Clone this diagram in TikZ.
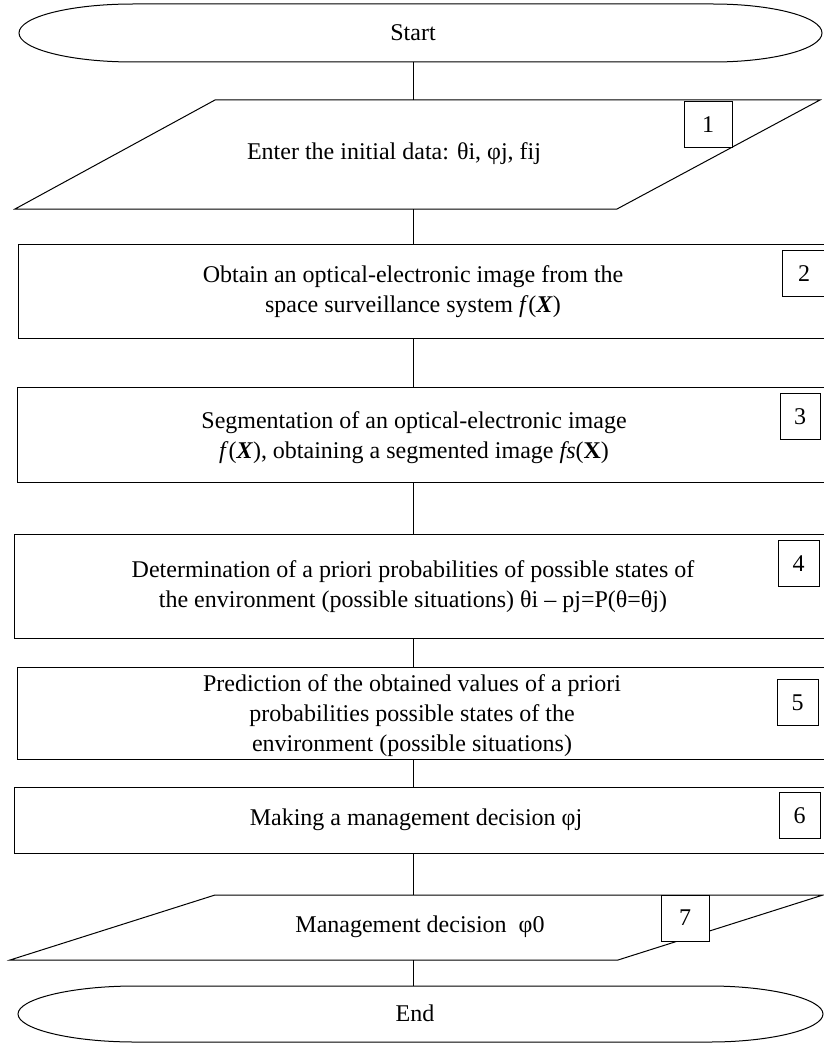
\documentclass[tikz,border=0pt]{standalone}
\usepackage{fontspec}
\setmainfont{Liberation Serif}
\begin{document}
\begin{tikzpicture}[x=1pt,y=-1pt,
  every node/.style={inner sep=0pt, outer sep=0pt},
  shapeline/.style={draw=black, line width=1pt},
  stepbox/.style={shapeline, rectangle, fill=white},
  numbox/.style={shapeline, rectangle, fill=white, minimum width=#1, minimum height=46pt},
  numbox/.default=44pt,
  label/.style={align=center, font=\fontsize{24}{30}\selectfont},
  conn/.style={draw=black, line width=1pt}]
\useasboundingbox (0,0) rectangle (823,1043);
\fill[white] (0,0) rectangle (823,1043);
\coordinate (axis) at (413,0);

% Start terminator
\path[shapeline] (133,4) -- (713,4)
  .. controls (773,4) and (822,17) .. (822,33)
  .. controls (822,49) and (773,62) .. (713,62)
  -- (133,62)
  .. controls (70,62) and (19,49) .. (19,33)
  .. controls (19,17) and (70,4) .. (133,4) -- cycle;
\node[label] (start) at (413,33) {Start};
\coordinate (sB) at (413,62);

% Parallelogram 1
\path[shapeline] (215,100) -- (820,100) -- (617,209) -- (15,209) -- cycle;
\coordinate (p1T) at (413,100);
\coordinate (p1B) at (413,209);
\node[label] (t1) at (394,154) {Enter the initial data: θi, φj, fij};
\node[numbox=48pt] (n1) at (708,125) {\fontsize{24}{30}\selectfont 1};

% Rectangles
\node[stepbox, minimum width=808pt, minimum height=94pt] (b2) at (422,291) {};
\node[label] (t2) at (413,292) {Obtain an optical-electronic image from the\\space surveillance system \textit{f}(\textbf{\textit{X}})};
\node[numbox=44pt] (n2) at (804,273.5) {\fontsize{24}{30}\selectfont 2};

\node[stepbox, minimum width=809pt, minimum height=95pt] (b3) at (421.5,434.5) {};
\node[label] (t3) at (414,438) {Segmentation of an optical-electronic image\\\textit{f}(\textbf{\textit{X}}), obtaining a segmented image \textit{fs}(\textbf{X})};
\node[numbox=40pt] (n3) at (800,416.5) {\fontsize{24}{30}\selectfont 3};

\node[stepbox, minimum width=812pt, minimum height=104pt] (b4) at (420,586) {};
\node[label] (t4) at (413,587) {Determination of a priori probabilities of possible states of\\the environment (possible situations) θi – pj=P(θ=θj)};
\node[numbox=41pt] (n4) at (798.5,563.5) {\fontsize{24}{30}\selectfont 4};

\node[stepbox, minimum width=809pt, minimum height=92pt] (b5) at (421.5,713) {};
\node[label] (t5) at (412,716) {Prediction of the obtained values of a priori\\probabilities possible states of the\\environment (possible situations)};
\node[numbox=41pt] (n5) at (797.5,702.5) {\fontsize{24}{30}\selectfont 5};

\node[stepbox, minimum width=812pt, minimum height=66pt] (b6) at (420,820) {};
\node[label] (t6) at (416,820) {Making a management decision φj};
\node[numbox=41pt] (n6) at (799.5,815.5) {\fontsize{24}{30}\selectfont 6};

% Parallelogram 7
\path[shapeline] (215,895) -- (823,895) -- (618,960) -- (10,960) -- cycle;
\coordinate (p7T) at (413,895);
\coordinate (p7B) at (413,960);
\node[label] (t7) at (420,927) {Management decision~ φ0};
\node[numbox=48pt] (n7) at (685,918) {\fontsize{24}{30}\selectfont 7};

% End terminator
\path[shapeline] (135,986) -- (710,986)
  .. controls (771,986) and (823,999) .. (823,1014)
  .. controls (823,1029) and (771,1042) .. (710,1042)
  -- (135,1042)
  .. controls (71,1042) and (18,1029) .. (18,1014)
  .. controls (18,999) and (71,986) .. (135,986) -- cycle;
\node[label] (end) at (415,1013) {End};
\coordinate (eT) at (413,986);

% Connectors
\draw[conn] (sB) -- (p1T);
\draw[conn] (p1B) -- (axis |- b2.north);
\draw[conn] (axis |- b2.south) -- (axis |- b3.north);
\draw[conn] (axis |- b3.south) -- (axis |- b4.north);
\draw[conn] (axis |- b4.south) -- (axis |- b5.north);
\draw[conn] (axis |- b5.south) -- (axis |- b6.north);
\draw[conn] (axis |- b6.south) -- (p7T);
\draw[conn] (p7B) -- (eT);
\end{tikzpicture}
\end{document}
